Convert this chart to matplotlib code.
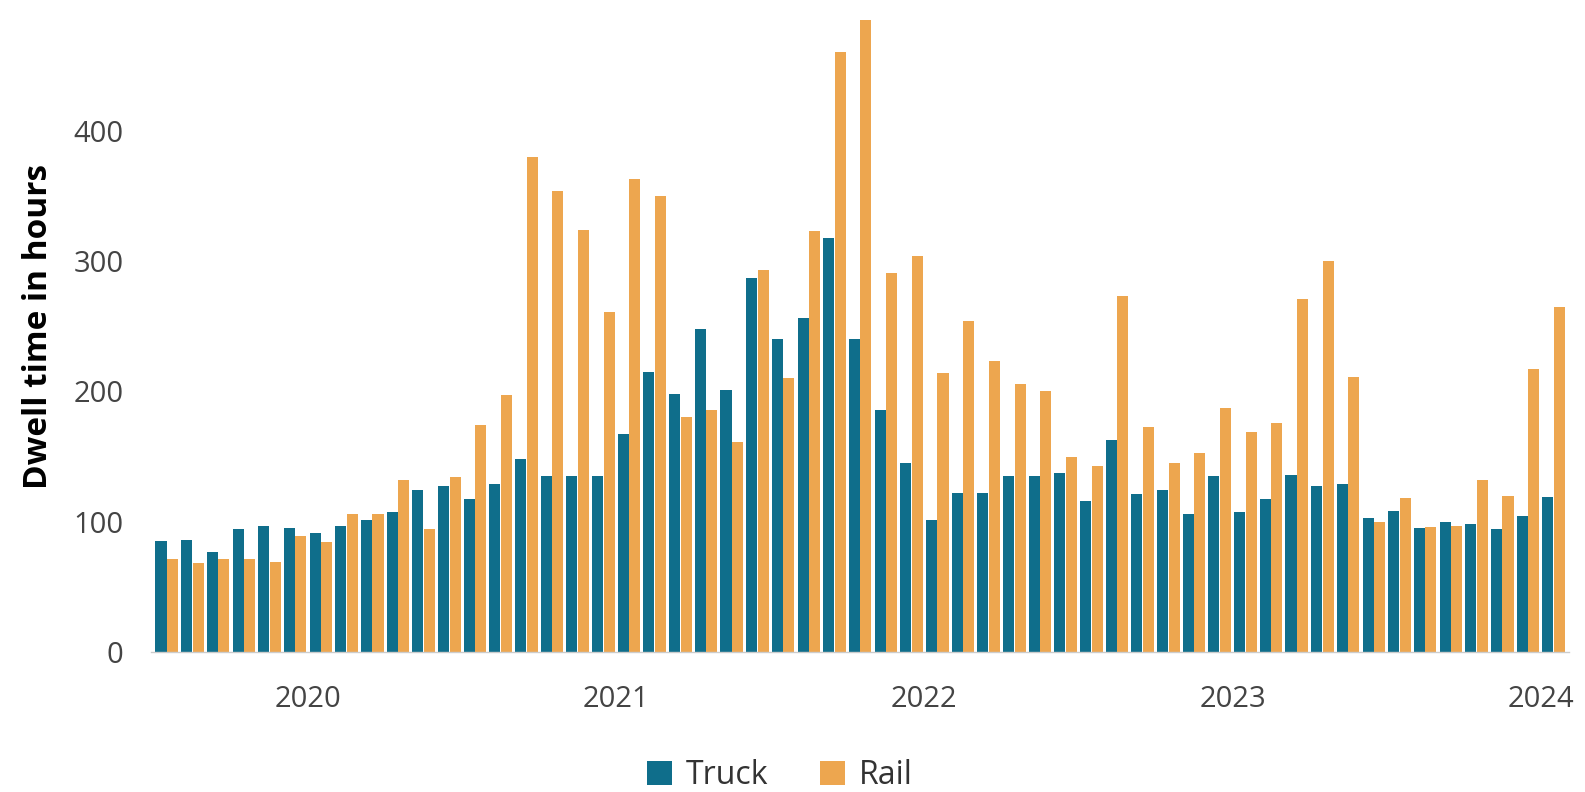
import pandas as pd
import matplotlib.pyplot as plt

plt.rcParams['font.family'] = ['Open Sans', 'DejaVu Sans']

# Monthly dwell time, Jul 2019 - Jan 2024
months = pd.date_range("2019-07-01", "2024-01-01", freq="MS")

truck = [85, 86, 77, 94, 97, 95,
         91, 97, 101, 107, 124, 127, 117, 129, 148, 135, 135, 135,
         167, 215, 198, 248, 201, 287, 240, 256, 318, 240, 186, 145,
         101, 122, 122, 135, 135, 137, 116, 163, 121, 124, 106, 135,
         107, 117, 136, 127, 129, 103, 108, 95, 100, 98, 94, 104,
         119]
rail = [71, 68, 71, 71, 69, 89,
        84, 106, 106, 132, 94, 134, 174, 197, 380, 354, 324, 261,
        363, 350, 180, 186, 161, 293, 210, 323, 461, 485, 291, 304,
        214, 254, 223, 206, 200, 150, 143, 273, 173, 145, 153, 187,
        169, 176, 271, 300, 211, 100, 118, 96, 97, 132, 120, 217,
        265]

truck_color = '#0F6E8B'
rail_color = '#EDA64F'

x = list(range(len(months)))
w = 0.43

fig = plt.figure(figsize=(15.85, 7.92), dpi=100)
ax = fig.add_axes([0.0955, 0.177, 0.8944, 0.822])

ax.bar([i - 0.225 for i in x], truck, width=w, color=truck_color, label='Truck')
ax.bar([i + 0.225 for i in x], rail, width=w, color=rail_color, label='Rail')

ax.set_xlim(-0.6, 54.6)
ax.set_ylim(0, 500)

# year labels sit on the January boundary
jan = [i for i, m in enumerate(months) if m.month == 1]
ax.set_xticks([i - 0.5 for i in jan])
ax.set_xticklabels([str(months[i].year) for i in jan])
ax.set_yticks([0, 100, 200, 300, 400])

ax.tick_params(axis='both', length=0, labelsize=21, labelcolor='#444444')
ax.tick_params(axis='x', pad=24)
ax.tick_params(axis='y', pad=20)

for s in ['top', 'right', 'left']:
    ax.spines[s].set_visible(False)
ax.spines['bottom'].set_color('#cccccc')
ax.spines['bottom'].set_linewidth(1)

ax.set_ylabel('Dwell time in hours', fontsize=24, fontweight='bold', color='black')
ax.yaxis.set_label_coords(-0.068, 0.50)

fig.legend(loc='lower center', bbox_to_anchor=(0.492, -0.036), ncol=2, frameon=False,
           fontsize=23, handlelength=0.78, handleheight=0.78, handletextpad=0.45,
           columnspacing=1.6, labelcolor='#333333')

plt.savefig('out.png', dpi=100)
